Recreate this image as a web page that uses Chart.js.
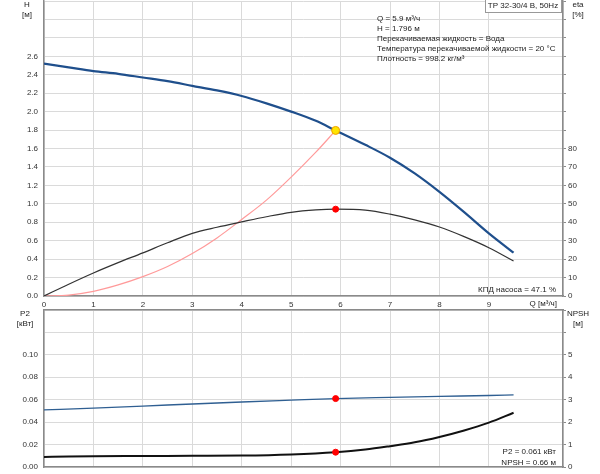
<!DOCTYPE html>
<html>
<head>
<meta charset="utf-8">
<script src="https://cdn.jsdelivr.net/npm/chart.js@4.4.0/dist/chart.umd.min.js"></script>
<style>
  body { margin: 0; background: #fff; width: 600px; height: 474px; overflow: hidden; position: relative; }
  #topChart { position: absolute; left: 0; top: -4px; }
  #botChart { position: absolute; left: 0; top: 305px; }
</style>
</head>
<body>
<canvas id="topChart" width="600" height="314"></canvas>
<canvas id="botChart" width="600" height="169"></canvas>
<script>
// pump curve (H)
const qH = [0, 0.5, 1, 1.5, 2, 2.5, 3, 3.5, 4, 4.5, 5, 5.5, 5.9, 6.5, 7, 7.5, 8, 8.5, 9, 9.5];
const hVals = [2.52, 2.48, 2.44, 2.41, 2.37, 2.33, 2.28, 2.23, 2.17, 2.09, 2.00, 1.90, 1.796, 1.64, 1.50, 1.33, 1.13, 0.91, 0.68, 0.47];
// efficiency, %
const etaVals = [0, 6.4, 12.5, 18.1, 23.4, 28.9, 34, 37.3, 40.2, 43.0, 45.4, 46.7, 47.1, 46.6, 44.4, 41.3, 37.4, 32.2, 26.2, 19];
// system curve
const qSys = [0, 0.5, 1, 1.5, 2, 2.5, 3, 3.5, 4, 4.5, 5, 5.5, 5.9];
const sysVals = [0, 0.01, 0.05, 0.12, 0.21, 0.32, 0.46, 0.63, 0.83, 1.04, 1.29, 1.56, 1.796];
// power P2, kW
const qP2 = [0, 1, 2, 3, 4, 5, 5.9, 7, 8, 9, 9.5];
const p2Vals = [0.0509, 0.0525, 0.0543, 0.0562, 0.058, 0.0596, 0.061, 0.0621, 0.063, 0.0638, 0.0643];
// NPSH, m
const qNpsh = [0, 0.5, 1, 2, 3, 4, 5, 5.9, 6.5, 7, 7.5, 8, 8.5, 9, 9.5];
const npshVals = [0.45, 0.47, 0.48, 0.49, 0.5, 0.51, 0.56, 0.66, 0.78, 0.93, 1.1, 1.34, 1.63, 1.98, 2.42];
// duty point
const dutyQ = 5.9, dutyH = 1.796, dutyEta = 47.1, dutyP2 = 0.061, dutyNpsh = 0.66;

const FONT = '"Liberation Sans", Arial, sans-serif';
const GRID = '#dadada';
const AXIS = '#8a8a8a';
const pts = (xs, ys) => xs.map((x, i) => ({ x: x, y: ys[i] }));

// draws small text items / boxes passed via plugin options
const textPlugin = {
  id: 'texts',
  afterDraw(chart, args, opts) {
    const ctx = chart.ctx;
    ctx.save();
    ctx.font = '8px ' + FONT;
    ctx.textBaseline = 'middle';
    (opts.boxes || []).forEach(b => {
      ctx.fillStyle = '#fff';
      ctx.fillRect(b.x, b.y, b.w, b.h);
      ctx.strokeStyle = '#999';
      ctx.lineWidth = 1;
      ctx.strokeRect(b.x + 0.5, b.y + 0.5, b.w, b.h);
    });
    ctx.fillStyle = '#222';
    (opts.items || []).forEach(t => {
      ctx.textAlign = t.align || 'left';
      ctx.fillText(t.text, t.x, t.y);
    });
    ctx.restore();
  }
};

const tickFont = { family: FONT, size: 8 };
// keep the plot area flush with the canvas edges
const noPad = s => { s.paddingTop = 0; s.paddingBottom = 0; };

new Chart(document.getElementById('topChart'), {
  type: 'line',
  data: {
    datasets: [
      { data: [{ x: dutyQ, y: dutyH }], yAxisID: 'yH', showLine: false, pointRadius: 4, pointBackgroundColor: '#ffe500', pointBorderColor: '#f0a000', pointBorderWidth: 1 },
      { data: [{ x: dutyQ, y: dutyEta }], yAxisID: 'yEta', showLine: false, pointRadius: 3, pointBackgroundColor: '#ff0000', pointBorderColor: '#ff0000' },
      { data: pts(qH, hVals), yAxisID: 'yH', borderColor: '#1f4f8c', borderWidth: 2.2, pointRadius: 0, cubicInterpolationMode: 'monotone' },
      { data: pts(qH, etaVals), yAxisID: 'yEta', borderColor: '#333', borderWidth: 1.2, pointRadius: 0, cubicInterpolationMode: 'monotone' },
      { data: pts(qSys, sysVals), yAxisID: 'yH', borderColor: '#ff9a9a', borderWidth: 1.2, pointRadius: 0, cubicInterpolationMode: 'monotone' }
    ]
  },
  options: {
    responsive: false,
    animation: false,
    layout: { padding: 0 },
    plugins: {
      legend: { display: false },
      tooltip: { enabled: false },
      texts: {
        boxes: [{ x: 485, y: 3, w: 76, h: 13 }],
        items: [
          { text: 'TP 32-30/4 B, 50Hz', x: 523, y: 10, align: 'center' },
          { text: 'H', x: 27, y: 9, align: 'center' },
          { text: '[м]', x: 27, y: 19, align: 'center' },
          { text: 'eta', x: 578, y: 9, align: 'center' },
          { text: '[%]', x: 578, y: 19, align: 'center' },
          { text: 'Q = 5.9 м³/ч', x: 377, y: 23 },
          { text: 'H = 1.796 м', x: 377, y: 33 },
          { text: 'Перекачиваемая жидкость = Вода', x: 377, y: 43 },
          { text: 'Температура перекачиваемой жидкости = 20 °C', x: 377, y: 53 },
          { text: 'Плотность = 998.2 кг/м³', x: 377, y: 63 },
          { text: 'КПД насоса = 47.1 %', x: 556, y: 294, align: 'right' },
          { text: 'Q [м³/ч]', x: 557, y: 308, align: 'right' }
        ]
      }
    },
    scales: {
      x: {
        type: 'linear', min: 0, max: 10.5,
        ticks: { stepSize: 1, font: tickFont, color: '#333', padding: 4, maxRotation: 0,
          callback: v => (v <= 9 && Number.isInteger(v)) ? String(v) : '' },
        grid: { color: GRID, drawTicks: false },
        border: { color: AXIS, width: 1.5 },
        afterFit: s => { s.height = 14; s.paddingLeft = 0; s.paddingRight = 0; }
      },
      yH: {
        position: 'left', min: 0, max: 3.2,
        ticks: { stepSize: 0.2, font: tickFont, color: '#333', padding: 6,
          callback: v => v <= 2.61 ? v.toFixed(1) : '' },
        grid: { color: GRID, drawTicks: false },
        border: { color: AXIS, width: 1.5 },
        afterFit: s => { s.width = 44; noPad(s); }
      },
      yEta: {
        position: 'right', min: 0, max: 160,
        ticks: { stepSize: 10, font: tickFont, color: '#333', padding: 2,
          callback: v => v <= 80 ? String(v) : '' },
        grid: { drawOnChartArea: false, drawTicks: true, tickLength: 3, color: AXIS },
        border: { color: AXIS, width: 1.5 },
        afterFit: s => { s.width = 37; noPad(s); }
      }
    }
  },
  plugins: [textPlugin]
});

new Chart(document.getElementById('botChart'), {
  type: 'line',
  data: {
    datasets: [
      { data: [{ x: dutyQ, y: dutyP2 }], yAxisID: 'yP2', showLine: false, pointRadius: 3, pointBackgroundColor: '#ff0000', pointBorderColor: '#ff0000' },
      { data: [{ x: dutyQ, y: dutyNpsh }], yAxisID: 'yNpsh', showLine: false, pointRadius: 3, pointBackgroundColor: '#ff0000', pointBorderColor: '#ff0000' },
      { data: pts(qP2, p2Vals), yAxisID: 'yP2', borderColor: '#2f5f92', borderWidth: 1.4, pointRadius: 0, cubicInterpolationMode: 'monotone' },
      { data: pts(qNpsh, npshVals), yAxisID: 'yNpsh', borderColor: '#111', borderWidth: 2, pointRadius: 0, cubicInterpolationMode: 'monotone' }
    ]
  },
  options: {
    responsive: false,
    animation: false,
    layout: { padding: { top: 1, bottom: 7, left: 0, right: 0 } },
    plugins: {
      legend: { display: false },
      tooltip: { enabled: false },
      texts: {
        items: [
          { text: 'P2', x: 25, y: 9, align: 'center' },
          { text: '[кВт]', x: 25, y: 19, align: 'center' },
          { text: 'NPSH', x: 578, y: 9, align: 'center' },
          { text: '[м]', x: 578, y: 19, align: 'center' },
          { text: 'P2 = 0.061 кВт', x: 556, y: 147, align: 'right' },
          { text: 'NPSH = 0.66 м', x: 556, y: 158, align: 'right' }
        ]
      }
    },
    scales: {
      x: {
        type: 'linear', position: 'top', min: 0, max: 10.5,
        ticks: { display: false, stepSize: 1 },
        grid: { color: GRID, drawTicks: false },
        border: { color: AXIS, width: 1.5 },
        afterFit: s => { s.height = 0; s.paddingLeft = 0; s.paddingRight = 0; }
      },
      x2: {
        type: 'linear', position: 'bottom', min: 0, max: 10.5,
        ticks: { display: false },
        grid: { display: false, drawTicks: false },
        border: { color: AXIS, width: 1.5 },
        afterFit: s => { s.height = 0; s.paddingLeft = 0; s.paddingRight = 0; }
      },
      yP2: {
        position: 'left', min: 0, max: 0.14,
        ticks: { stepSize: 0.02, font: tickFont, color: '#333', padding: 6,
          callback: v => v <= 0.101 ? v.toFixed(2) : '' },
        grid: { color: GRID, drawTicks: false },
        border: { color: AXIS, width: 1.5 },
        afterFit: s => { s.width = 44; noPad(s); }
      },
      yNpsh: {
        position: 'right', min: 0, max: 7,
        ticks: { stepSize: 1, font: tickFont, color: '#333', padding: 2,
          callback: v => v <= 5 ? String(v) : '' },
        grid: { drawOnChartArea: false, drawTicks: true, tickLength: 3, color: AXIS },
        border: { color: AXIS, width: 1.5 },
        afterFit: s => { s.width = 37; noPad(s); }
      }
    }
  },
  plugins: [textPlugin]
});
</script>
</body>
</html>
